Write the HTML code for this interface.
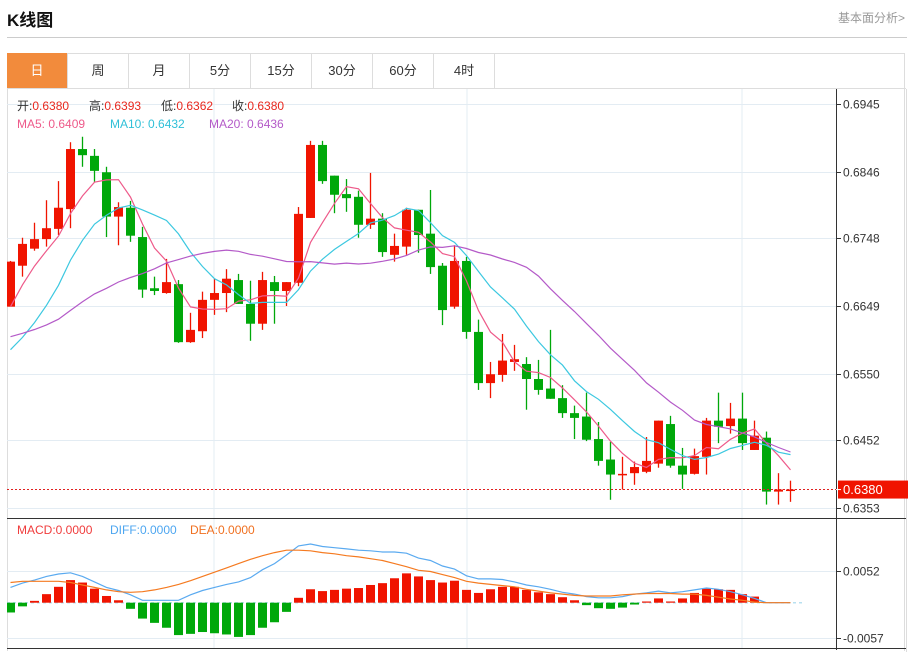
<!DOCTYPE html>
<html><head><meta charset="utf-8">
<style>
html,body{margin:0;padding:0;background:#fff;width:919px;height:652px;overflow:hidden;font-family:"Liberation Sans","Noto Sans CJK SC",sans-serif;}
#wrap{position:relative;width:919px;height:652px;}
.title{position:absolute;left:7px;top:6px;font-size:17px;font-weight:bold;color:#111;}
.more{position:absolute;left:838px;top:9px;font-size:12px;color:#999;}
.hr{position:absolute;left:7px;top:37px;width:900px;height:1px;background:#ccc;}
.box{position:absolute;left:7px;top:53px;width:898px;height:598px;border:1px solid #ddd;border-bottom:none;box-sizing:border-box;}
.tabs{position:absolute;left:7px;top:53px;height:36px;width:899px;border-bottom:1px solid #ddd;box-sizing:border-box;}
.tab{position:absolute;top:0;height:35px;width:61px;border-right:1px solid #ddd;box-sizing:border-box;text-align:center;line-height:36px;font-size:13px;color:#333;}
.tab.on{background:#f28b3c;color:#fff;}
svg{position:absolute;left:0;top:0;}
</style></head>
<body>
<div id="wrap">
<div class="title">K线图</div>
<div class="more">基本面分析&gt;</div>
<div class="hr"></div>
<div class="box"></div>
<div class="tabs">
<div class="tab on" style="left:0">日</div>
<div class="tab" style="left:61px">周</div>
<div class="tab" style="left:122px">月</div>
<div class="tab" style="left:183px">5分</div>
<div class="tab" style="left:244px">15分</div>
<div class="tab" style="left:305px">30分</div>
<div class="tab" style="left:366px">60分</div>
<div class="tab" style="left:427px">4时</div>
</div>
<svg id="chart" width="919" height="652"></svg>
</div>
<script>
const opens=[.6648,.6708,.6733,.6747,.6762,.6791,.6879,.6869,.6845,.6780,.6793,.6750,.6675,.6668,.6681,.6596,.6612,.6658,.6668,.6687,.6652,.6623,.6684,.6671,.6683,.6778,.6885,.6840,.6813,.6809,.6768,.6777,.6724,.6736,.6790,.6755,.6708,.6648,.6715,.6611,.6536,.6548,.6567,.6564,.6542,.6528,.6514,.6492,.6487,.6454,.6424,.6402,.6404,.6406,.6418,.6476,.6415,.6403,.6428,.6481,.6473,.6484,.6438,.6456,.6377,.6380];
const highs=[.6715,.6749,.6771,.6804,.6832,.6889,.6897,.6879,.6853,.6801,.6803,.6765,.6692,.6718,.6687,.6639,.6670,.6689,.6703,.6696,.6686,.6699,.6693,.6684,.6794,.6891,.6891,.6840,.6835,.6818,.6844,.6785,.6755,.6793,.6790,.6819,.6712,.6738,.6721,.6629,.6567,.6608,.6592,.6574,.6570,.6614,.6533,.6503,.6522,.6479,.6450,.6428,.6421,.6457,.6481,.6488,.6441,.6440,.6485,.6522,.6507,.6522,.6481,.6465,.6404,.6393];
const lows=[.6648,.6692,.6730,.6736,.6753,.6763,.6853,.6831,.6750,.6738,.6743,.6661,.6665,.6667,.6595,.6595,.6602,.6636,.6640,.6652,.6598,.6614,.6623,.6649,.6678,.6778,.6828,.6785,.6787,.6749,.6762,.6721,.6714,.6724,.6727,.6696,.6621,.6645,.6601,.6526,.6514,.6538,.6554,.6497,.6519,.6513,.6485,.6454,.6451,.6415,.6365,.6380,.6387,.6404,.6412,.6412,.6381,.6402,.6402,.6448,.6462,.6438,.6438,.6358,.6358,.6362];
const closes=[.6714,.6740,.6747,.6763,.6793,.6879,.6870,.6847,.6780,.6794,.6752,.6673,.6671,.6684,.6596,.6614,.6658,.6668,.6689,.6652,.6623,.6687,.6671,.6684,.6784,.6885,.6832,.6812,.6807,.6768,.6777,.6728,.6737,.6790,.6753,.6706,.6643,.6715,.6611,.6536,.6549,.6569,.6571,.6542,.6526,.6513,.6492,.6485,.6453,.6422,.6402,.6403,.6413,.6422,.6481,.6415,.6402,.6429,.6481,.6472,.6484,.6448,.6459,.6377,.6380,.6380];
const priorCloses=[.6640,.6635,.6630,.6625,.6620,.6620,.6615,.6615,.6610,.6620,.6560,.6530,.6510,.6500,.6510,.6580,.6610,.6650,.6686];
const macdHist=[-.0016,-.0006,.0003,.0014,.0026,.0037,.0033,.0023,.0011,.0004,-.0010,-.0026,-.0033,-.0041,-.0053,-.0051,-.0048,-.0050,-.0052,-.0056,-.0053,-.0041,-.0032,-.0015,.0008,.0022,.0019,.0021,.0023,.0024,.0029,.0032,.0040,.0048,.0043,.0037,.0033,.0036,.0021,.0016,.0022,.0026,.0026,.0021,.0017,.0014,.0009,.0004,-.0004,-.0009,-.0010,-.0008,-.0003,.0002,.0007,.0002,.0007,.0016,.0023,.0022,.0021,.0014,.0010,0,0,0];
const diffLine=[.0025,.0032,.0037,.0043,.0047,.0049,.0043,.0034,.0025,.0020,.0013,.0004,.0004,.0004,.0004,.0013,.0020,.0025,.0030,.0034,.0041,.0054,.0064,.0078,.0093,.0096,.0092,.0090,.0088,.0086,.0085,.0083,.0083,.0081,.0073,.0069,.0060,.0055,.0044,.0039,.0039,.0038,.0034,.0029,.0026,.0022,.0017,.0014,.0010,.0008,.0008,.0010,.0014,.0016,.0019,.0016,.0018,.0021,.0024,.0022,.0018,.0013,.0007,0,0,0];
const deaLine=[.0033,.0035,.0035,.0035,.0035,.0033,.0029,.0025,.0021,.0018,.0017,.0018,.0021,.0025,.0030,.0036,.0043,.0050,.0057,.0064,.0071,.0077,.0082,.0086,.0086,.0085,.0082,.0080,.0077,.0075,.0072,.0069,.0064,.0059,.0053,.0051,.0046,.0041,.0035,.0032,.0030,.0028,.0026,.0022,.0019,.0016,.0014,.0012,.0011,.0011,.0011,.0013,.0014,.0015,.0015,.0015,.0014,.0014,.0012,.0009,.0006,.0004,.0001,0,0,0];
const priceTicks=[0.6945,0.6846,0.6748,0.6649,0.6550,0.6452,0.6353];
const macdTicks=[0.0052,-0.0057];
const lastPrice=0.6380;

const NS='http://www.w3.org/2000/svg';
const svg=document.getElementById('chart');
const L=7,R=836,PT=89,PB=518,MT=518,MB=648;
const xOf=i=>10.5+12*i;
const yP=p=>104+(0.6945-p)*6824;
const yM=v=>602.7-v*6110;
function mk(tag,attrs,parent){const e=document.createElementNS(NS,tag);for(const k in attrs)e.setAttribute(k,attrs[k]);(parent||svg).appendChild(e);return e;}
function txt(x,y,s,fill,size,anchor){const t=mk('text',{x:x,y:y,fill:fill,'font-size':size||12,'font-family':'"Liberation Sans","Noto Sans CJK SC",sans-serif','text-anchor':anchor||'start'});t.textContent=s;return t;}

const defs=mk('defs',{});
const cp=mk('clipPath',{id:'plotclip'},defs);mk('rect',{x:L,y:PT,width:R-L,height:MB-PT},cp);

// grids
[214,467,742].forEach(x=>{const g=mk('line',{x1:x,y1:PT,x2:x,y2:MB,stroke:'#e3ecf3','stroke-width':1});

});
priceTicks.forEach(p=>{const y=Math.round(yP(p))+0.5;
const g=mk('line',{x1:L,y1:y,x2:R,y2:y,stroke:'#e3ecf3','stroke-width':1});


mk('line',{x1:R,y1:y,x2:R+5,y2:y,stroke:'#333'});
const t=txt(R+7,y+4,p.toFixed(4),'#333',12);

});
macdTicks.forEach(v=>{const y=Math.round(yM(v))+0.5;
const g=mk('line',{x1:L,y1:y,x2:R,y2:y,stroke:'#e3ecf3','stroke-width':1});


mk('line',{x1:R,y1:y,x2:R+5,y2:y,stroke:'#333'});
const t=txt(R+7,y+4,v.toFixed(4),'#333',12);

});
// zero line
const zl=mk('line',{x1:L,y1:yM(0),x2:802,y2:yM(0),stroke:'#b8e0f0','stroke-width':1.5,'stroke-dasharray':'3,3'});



// axes
mk('line',{x1:R+0.5,y1:PT,x2:R+0.5,y2:MB+2,stroke:'#333'});
mk('line',{x1:L,y1:PB+0.5,x2:906,y2:PB+0.5,stroke:'#333'});
mk('line',{x1:L,y1:MB+0.5,x2:906,y2:MB+0.5,stroke:'#333'});
mk('line',{x1:906.5,y1:PT,x2:906.5,y2:652,stroke:'#ddd'});

const plot=mk('g',{'clip-path':'url(#plotclip)'});



// candles
const RED='#f01400',GREEN='#00a80a';
for(let i=0;i<closes.length;i++){
  const up=closes[i]>=opens[i];const c=up?RED:GREEN;const x=xOf(i);
  const g=mk('g',{},plot);
  
  
  mk('line',{x1:x,y1:yP(highs[i]),x2:x,y2:yP(lows[i]),stroke:c,'stroke-width':1.3},g);
  const t=yP(Math.max(opens[i],closes[i])),b=yP(Math.min(opens[i],closes[i]));
  mk('rect',{x:x-4.5,y:t,width:9,height:Math.max(b-t,1.5),fill:c},g);
}
// MAs
const allC=priorCloses.concat(closes);
function ma(n){const out=[];for(let i=0;i<closes.length;i++){const k=i+priorCloses.length;let s=0;for(let j=k-n+1;j<=k;j++)s+=allC[j];out.push(s/n);}return out;}
[[5,'#ee5a8a','ma5-line'],[10,'#3cc8e0','ma10-line'],[20,'#b45ac8','ma20-line']].forEach(([n,col,name])=>{
  const v=ma(n);const pts=v.map((p,i)=>xOf(i)+','+yP(p).toFixed(1)).join(' ');
  const pl=mk('polyline',{points:pts,fill:'none',stroke:col,'stroke-width':1.2},plot);
  
  
});
// last price line
const lp=mk('line',{x1:L,y1:yP(lastPrice),x2:R,y2:yP(lastPrice),stroke:'#e02020','stroke-width':1,'stroke-dasharray':'2,2'});


const lb=mk('rect',{x:R+2,y:yP(lastPrice)-9,width:70,height:18,fill:RED});


mk('line',{x1:R,y1:yP(lastPrice),x2:R+5,y2:yP(lastPrice),stroke:'#fff'});
txt(R+7,yP(lastPrice)+4.5,lastPrice.toFixed(4),'#fff',13);

// MACD histogram
for(let i=0;i<macdHist.length;i++){
  const v=macdHist[i];if(v===0)continue;
  const y0=yM(0),y1=yM(v);
  const r=mk('rect',{x:xOf(i)-4.5,y:Math.min(y0,y1),width:9,height:Math.abs(y1-y0),fill:v>0?RED:GREEN},plot);
  
  
}
const dl=mk('polyline',{points:diffLine.map((v,i)=>xOf(i)+','+yM(v).toFixed(1)).join(' '),fill:'none',stroke:'#5aaaf0','stroke-width':1.2},plot);


const el=mk('polyline',{points:deaLine.map((v,i)=>xOf(i)+','+yM(v).toFixed(1)).join(' '),fill:'none',stroke:'#f57a20','stroke-width':1.2},plot);



// legends
function legend(x,y,parts,name){const t=mk('text',{x:x,y:y,'font-size':12,'font-family':'"Liberation Sans","Noto Sans CJK SC",sans-serif'});


parts.forEach(([s,c])=>{const sp=mk('tspan',{fill:c},t);sp.textContent=s;});}
legend(17,110,[['开:','#333'],['0.6380','#e8281e']],'legend-open');
legend(89,110,[['高:','#333'],['0.6393','#e8281e']],'legend-high');
legend(161,110,[['低:','#333'],['0.6362','#e8281e']],'legend-low');
legend(232,110,[['收:','#333'],['0.6380','#e8281e']],'legend-close');
legend(17,128,[['MA5: 0.6409','#ee5a8a']],'legend-ma5');
legend(110,128,[['MA10: 0.6432','#30c0d8']],'legend-ma10');
legend(209,128,[['MA20: 0.6436','#b45ac8']],'legend-ma20');
legend(17,534,[['MACD:0.0000','#f03c3c']],'legend-macd');
legend(110,534,[['DIFF:0.0000','#4da6f0']],'legend-diff');
legend(190,534,[['DEA:0.0000','#f07020']],'legend-dea');
</script>
</body></html>
